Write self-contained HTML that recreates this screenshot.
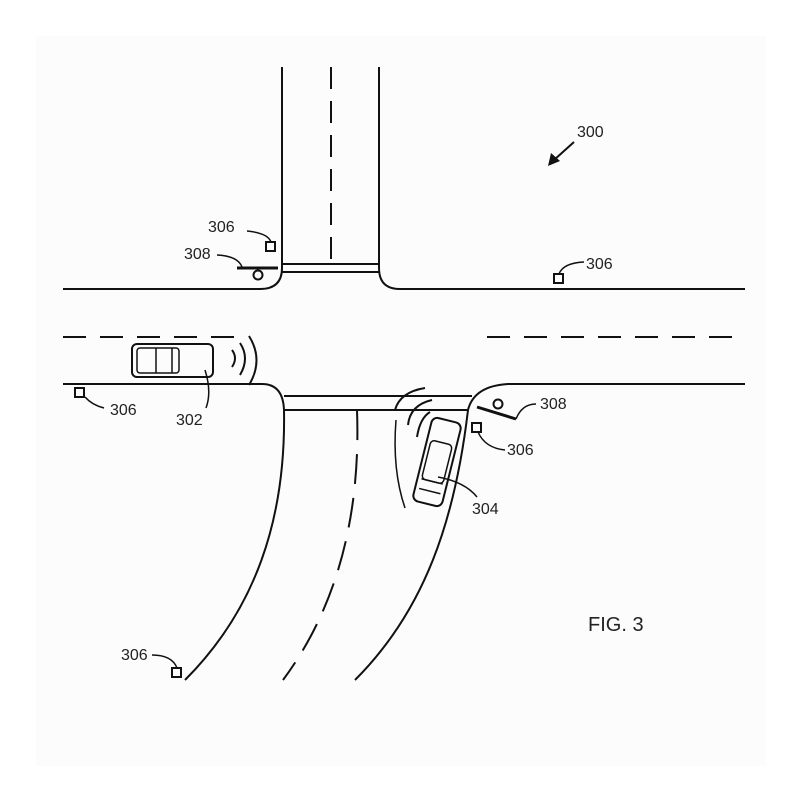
<!DOCTYPE html>
<html><head><style>
html,body{margin:0;padding:0;background:#fff;}
svg{display:block;}
text{font-family:"Liberation Sans",sans-serif;fill:#222;}
</style></head><body>
<svg width="800" height="800" viewBox="0 0 800 800" xmlns="http://www.w3.org/2000/svg">
<rect x="36" y="36" width="730" height="730" fill="#fcfcfc"/>
<g fill="none" stroke="#111" stroke-width="2">
<path d="M282,67 V268 Q282,289 260,289 H63"/>
<path d="M379,67 V268 Q379,289 400,289 H745"/>
<path d="M331,67 V263" stroke-dasharray="22,12"/>
<line x1="282" y1="264" x2="379" y2="264"/>
<line x1="282" y1="272" x2="379" y2="272"/>
<path d="M63,337 H245" stroke-dasharray="23,14"/>
<path d="M487,337 H745" stroke-dasharray="23,14"/>
<path d="M63,384 H262 Q283,384 284,410 C286,520 255,610 185,680"/>
<path d="M745,384 H508 Q474,386 468,410 C455,520 425,610 355,680"/>
<path d="M357,410 C361,520 335,610 283,680" stroke-dasharray="30,14"/>
<line x1="284" y1="396" x2="472" y2="396"/>
<line x1="284" y1="410" x2="468" y2="410"/>
<rect x="132" y="344" width="81" height="33" rx="5"/>
<rect x="137" y="348" width="42" height="25" rx="3" stroke-width="1.5"/>
<line x1="156" y1="348" x2="156" y2="373" stroke-width="1.5"/>
<line x1="172" y1="348" x2="172" y2="373" stroke-width="1.5"/>
<path d="M232,350 Q238,358 232,367"/>
<path d="M240,343 Q250,358 240,375"/>
<path d="M249,336 Q264,360 249,385"/>
<g transform="translate(437,462) rotate(14)">
<rect x="-15" y="-43" width="30" height="86" rx="6"/>
<rect x="-11" y="-20" width="22" height="40" rx="4" stroke-width="1.5"/>
<line x1="-11" y1="20" x2="11" y2="20" stroke-width="1.5"/>
<line x1="-11" y1="30" x2="11" y2="30" stroke-width="1.5"/>
</g>
<path d="M395,410 Q400,392 425,388"/>
<path d="M408,425 Q410,405 432,400"/>
<path d="M417,437 Q420,418 430,412"/>
<path d="M396,420 Q392,470 405,508" stroke-width="1.5"/>
<rect x="266" y="242" width="9" height="9"/>
<rect x="554" y="274" width="9" height="9"/>
<rect x="75" y="388" width="9" height="9"/>
<rect x="472" y="423" width="9" height="9"/>
<rect x="172" y="668" width="9" height="9"/>
<line x1="237" y1="268" x2="278" y2="268" stroke-width="3"/>
<circle cx="258" cy="275" r="4.5"/>
<line x1="477" y1="407" x2="516" y2="419" stroke-width="3"/>
<circle cx="498" cy="404" r="4.5"/>
<path d="M247,231 Q268,233 271,242" stroke-width="1.5"/>
<path d="M217,255 Q238,256 242,267" stroke-width="1.5"/>
<path d="M584,262 Q563,263 559,274" stroke-width="1.5"/>
<path d="M85,397 Q92,405 104,408" stroke-width="1.5"/>
<path d="M478,432 Q485,448 505,450" stroke-width="1.5"/>
<path d="M536,404 Q522,404 516,419" stroke-width="1.5"/>
<path d="M152,655 Q172,655 177,668" stroke-width="1.5"/>
<path d="M205,370 Q212,392 206,408" stroke-width="1.5"/>
<path d="M438,477 Q465,482 477,497" stroke-width="1.5"/>
<line x1="574" y1="142" x2="554" y2="160" stroke-width="2"/>
</g>
<polygon points="548,166 551,153 560,161" fill="#111"/>
<g font-size="16">
<text x="577" y="137">300</text>
<text x="208" y="232">306</text>
<text x="184" y="259">308</text>
<text x="586" y="269">306</text>
<text x="110" y="415">306</text>
<text x="176" y="425">302</text>
<text x="540" y="409">308</text>
<text x="507" y="455">306</text>
<text x="472" y="514">304</text>
<text x="121" y="660">306</text>
</g>
<text x="588" y="631" font-size="20">FIG. 3</text>
</svg>
</body></html>
